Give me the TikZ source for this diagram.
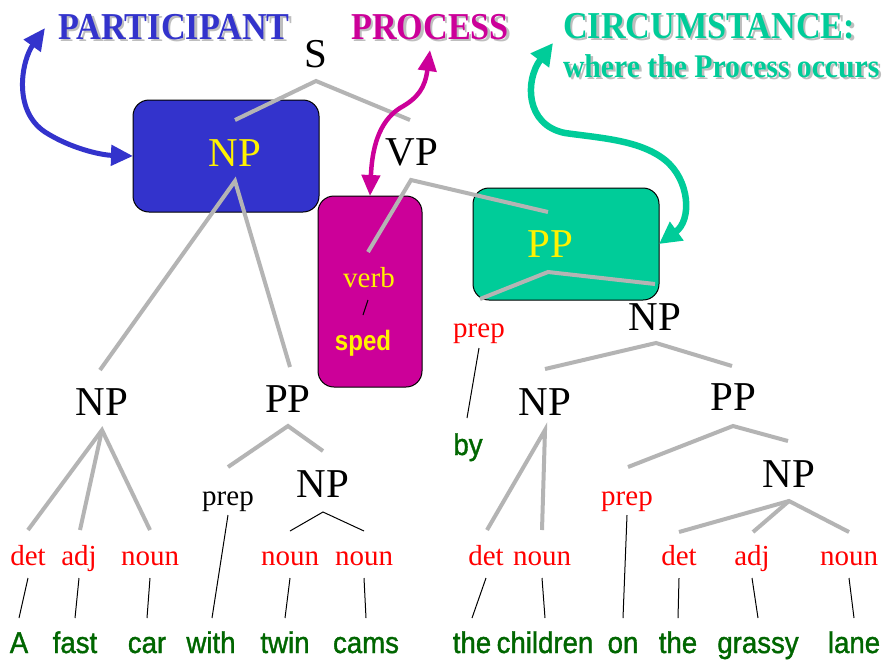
\documentclass[tikz,border=0pt]{standalone}
\usepackage{fontspec}
\setmainfont{Liberation Serif}
\newfontfamily\narrow[FakeStretch=0.92,FakeBold=1.2]{Liberation Sans}
\newfontfamily\narrowb[FakeStretch=0.86]{Liberation Sans}
\newfontfamily\headfont[FakeStretch=0.9]{Liberation Serif}
\usetikzlibrary{arrows.meta,calc}
\definecolor{pblue}{RGB}{51,51,204}
\definecolor{pmag}{RGB}{204,0,153}
\definecolor{pgreen}{RGB}{0,204,153}
\definecolor{tgray}{RGB}{180,180,180}
\definecolor{shgray}{RGB}{190,190,190}
\definecolor{wgreen}{RGB}{0,102,0}
\definecolor{lred}{RGB}{255,0,0}
\begin{document}
\begin{tikzpicture}[x=1pt,y=-1pt,
  every node/.style={inner sep=0pt,outer sep=0pt,anchor=base},
  head/.style={font=\headfont\bfseries\fontsize{38}{40}\selectfont},
  subhead/.style={font=\headfont\bfseries\fontsize{33}{36}\selectfont},
  phrase/.style={font=\fontsize{41}{44}\selectfont},
  cat/.style={font=\fontsize{29}{32}\selectfont},
  redcat/.style={cat,text=lred},
  word/.style={font=\narrow\fontsize{30}{32}\selectfont,text=wgreen},
  spedword/.style={font=\narrowb\bfseries\fontsize{28}{30}\selectfont,text=yellow},
  box/.style={draw=black,line width=1pt,rounded corners=16pt,anchor=north west},
  tree/.style={draw=tgray,line width=4pt},
  leaf/.style={draw=black,line width=1pt},
  barrow/.style={draw=pblue,line width=5pt,{Triangle[length=22pt,width=20pt]}-{Triangle[length=22pt,width=20pt]}},
  marrow/.style={draw=pmag,line width=4.5pt,{Triangle[length=21pt,width=18pt]}-{Triangle[length=21pt,width=18pt]}},
  garrow/.style={draw=pgreen,line width=6.5pt,{Triangle[length=22pt,width=22pt]}-{Triangle[length=22pt,width=22pt]}}
]
\useasboundingbox[fill=white] (0,0) rectangle (882,662);

% coloured boxes
\node[box,fill=pblue,minimum width=186pt,minimum height=112pt] (npbox) at (133,100) {};
\node[box,fill=pmag,minimum width=104pt,minimum height=191pt] (vbox) at (318,196) {};
\node[box,fill=pgreen,minimum width=186pt,minimum height=112pt] (ppbox) at (473,188) {};

% headers with shadows
\node[head,text=shgray] (participantsh) at (176.5,41.5) {PARTICIPANT};
\node[head,text=pblue] (participant) at (174,39) {PARTICIPANT};
\node[head,text=shgray] (processsh) at (432.5,41.5) {PROCESS};
\node[head,text=pmag] (process) at (430,39) {PROCESS};
\node[head,text=shgray,anchor=base west] (circsh) at (565.5,40.5) {CIRCUMSTANCE:};
\node[head,text=pgreen,anchor=base west] (circ) at (563,38) {CIRCUMSTANCE:};
\node[subhead,text=shgray,anchor=base west] (wheresh) at (565.5,79.5) {where the Process occurs};
\node[subhead,text=pgreen,anchor=base west] (where) at (563,77) {where the Process occurs};

% phrase nodes
\node[phrase] (S) at (316,67) {S};
\node[phrase,text=yellow] (NP1) at (235,166) {NP};
\node[phrase] (VP) at (412,165) {VP};
\node[cat,text=yellow] (verb) at (369,287) {verb};
\node[spedword] (sped) at (363,350) {sped};
\node[phrase,text=yellow] (PP1) at (550,257) {PP};
\node[redcat] (prep1) at (479,337) {prep};
\node[word] (by) at (468,455) {by};
\node[phrase] (NPb) at (655,330) {NP};
\node[phrase] (NPc) at (545,415) {NP};
\node[phrase] (PPb) at (733,410) {PP};
\node[redcat] (prep3) at (627,505) {prep};
\node[phrase] (NPd) at (789,487) {NP};
\node[phrase] (NPa) at (102,415) {NP};
\node[phrase] (PPa) at (288,412) {PP};
\node[cat] (prep2) at (228,505) {prep};
\node[phrase] (NPs) at (323,497) {NP};

% category row
\node[redcat] (det1) at (28,565) {det};
\node[redcat] (adj1) at (79,565) {adj};
\node[redcat] (noun1) at (150,565) {noun};
\node[redcat] (noun2) at (290,565) {noun};
\node[redcat] (noun3) at (364,565) {noun};
\node[redcat] (det2) at (486,565) {det};
\node[redcat] (noun4) at (542,565) {noun};
\node[redcat] (det3) at (679,565) {det};
\node[redcat] (adj2) at (752,565) {adj};
\node[redcat] (noun5) at (849,565) {noun};

% words
\node[word] (wA) at (19,653) {A};
\node[word] (wfast) at (75,653) {fast};
\node[word] (wcar) at (147,653) {car};
\node[word] (wwith) at (211,653) {with};
\node[word] (wtwin) at (285,653) {twin};
\node[word] (wcams) at (366,653) {cams};
\node[word] (wthe) at (472,653) {the};
\node[word] (wchildren) at (545,653) {children};
\node[word] (won) at (623,653) {on};
\node[word] (wthe2) at (678,653) {the};
\node[word] (wgrassy) at (758,653) {grassy};
\node[word] (wlane) at (854,653) {lane};

% tree lines
\draw[tree] ($(NP1.base)+(0,-46)$) -- ($(S.base)+(0,14)$) -- ($(VP.base)+(-2,-45)$);
\draw[tree] ($(NPa.base)+(-2,-45)$) -- ($(NP1.base)+(0,15)$) -- ($(PPa.base)+(2,-45)$);
\draw[tree] ($(verb.base)+(-1,-35)$) -- ($(VP.base)+(-1,15)$) -- ($(PP1.base)+(-2,-45)$);
\draw[tree] ($(prep1.base)+(1,-38)$) -- ($(PP1.base)+(-2,15)$) -- ($(NPb.base)+(0,-46)$);
\draw[tree] ($(NPc.base)+(0,-46)$) -- ($(NPb.base)+(1,13)$) -- ($(PPb.base)+(-1,-44)$);
\draw[tree] ($(det2.base)+(1,-35)$) -- ($(NPc.base)+(0,15)$) -- ($(noun4.base)+(0,-35)$);
\draw[tree] ($(prep3.base)+(1,-38)$) -- ($(PPb.base)+(0,16)$) -- ($(NPd.base)+(-1,-46)$);
\draw[tree] ($(det3.base)+(0,-33)$) -- ($(NPd.base)+(0,14)$) -- ($(noun5.base)+(0,-33)$);
\draw[tree] ($(NPd.base)+(0,14)$) -- ($(adj2.base)+(1,-33)$);
\draw[tree] ($(det1.base)+(0,-35)$) -- ($(NPa.base)+(0,15)$) -- ($(noun1.base)+(0,-35)$);
\draw[tree] ($(NPa.base)+(0,15)$) -- ($(adj1.base)+(1,-35)$);
\draw[tree] ($(prep2.base)+(0,-38)$) -- ($(PPa.base)+(0,14)$) -- ($(NPs.base)+(0,-46)$);

% thin lines
\draw[leaf] ($(verb.base)+(-1,13)$) -- ($(sped.base)+(0,-35)$);
\draw[leaf] ($(prep1.base)+(0,11)$) -- ($(by.base)+(-1,-37)$);
\draw[leaf] ($(prep3.base)+(0,10)$) -- ($(won.base)+(0,-35)$);
\draw[leaf] ($(prep2.base)+(0,10)$) -- ($(wwith.base)+(1,-35)$);
\draw[leaf] ($(noun2.base)+(0,-34)$) -- ($(NPs.base)+(0,15)$) -- ($(noun3.base)+(0,-34)$);
\foreach \c/\w in {det1/wA,adj1/wfast,noun1/wcar,noun2/wtwin,noun3/wcams,det2/wthe,noun4/wchildren,det3/wthe2,adj2/wgrassy,noun5/wlane}
  \draw[leaf] ($(\c.base)+(0,13)$) -- ($(\w.base)+(0,-35)$);

% arrows
\coordinate (partTip) at (45,28);
\coordinate (procTip) at (430,50);
\coordinate (circTip) at (553,43);
\draw[barrow] (partTip) .. controls (22,60) and (12,110) .. (45,132) .. controls (70,148) and (100,155) .. (npbox.west);
\draw[marrow] (procTip) .. controls (425,88) and (418,98) .. (400,108) .. controls (378,122) and (372,150) .. (vbox.north);
\draw[garrow] (circTip) .. controls (525,80) and (525,125) .. (565,133) .. controls (600,138) and (640,140) .. (665,160) .. controls (690,180) and (692,220) .. (ppbox.east);
\end{tikzpicture}
\end{document}
